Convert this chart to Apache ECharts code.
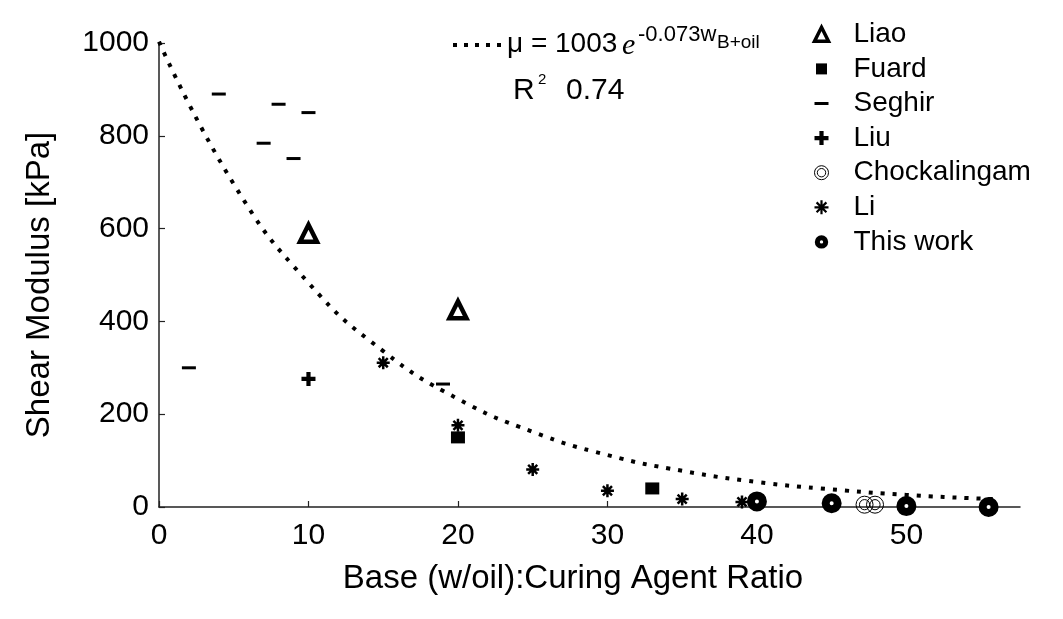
<!DOCTYPE html>
<html>
<head>
<meta charset="utf-8" />
<script src="https://cdn.jsdelivr.net/npm/echarts@6/dist/echarts.min.js"></script>
<style>
    html, body { margin: 0; padding: 0; background: #fff; }
    #chart { width: 1063px; height: 619px; }
</style>
</head>
<body>
<div id="chart"></div>
<script>
// ---- data ----
var liao = [[10, 590], [20, 425]];
var fuard = [[20, 150], [33, 40]];
var seghir = [[4, 890], [8, 868], [10, 850], [7, 784], [9, 751], [2, 300], [19, 265]];
var liu = [[10, 276]];
var chockalingam = [[47.2, 5], [47.9, 5]];
var li = [[15, 311], [20, 176], [25, 81], [30, 35], [35, 17], [39, 11]];
var thisWork = [[40, 12], [45, 8], [50, 2], [55.5, 0]];

// fitted curve, sampled from the dotted line
var fitX = [0, 5, 10, 15, 20, 25, 30, 35, 40, 45, 50, 55, 56];
var fitY = [1003, 696, 483, 336, 233, 162, 112, 78, 54, 38, 26, 18, 17];

var xTicks = [0, 10, 20, 30, 40, 50];

var FONT = 'Liberation Sans, Arial, sans-serif';

var sym = {
    dash: 'path://M0,0M14,14M0,5.5H14V8.5H0Z',
    plus: 'path://M-1.5,-5H1.5V-1.5H5V1.5H1.5V5H-1.5V1.5H-5V-1.5H-1.5Z',
    ring2: 'path://M-10,0A10,10,0,1,0,10,0A10,10,0,1,0,-10,0ZM-6,0A6,6,0,1,0,6,0A6,6,0,1,0,-6,0Z',
    star: 'path://M0,-5V5M-5,0H5M-3.5,-3.5L3.5,3.5M-3.5,3.5L3.5,-3.5',
    squareSmall: 'path://M0,0M14,14M1.5,1.5H12.5V12.5H1.5Z',
    dotSmall: 'path://M0,0M20,20M4,10A6,6,0,1,0,16,10A6,6,0,1,0,4,10Z'
};

var myChart = echarts.init(document.getElementById('chart'), null, { renderer: 'canvas' });

var fitData = fitX.map(function (x, i) { return [x, fitY[i]]; });

var option = {
    animation: false,
    backgroundColor: '#fff',
    grid: { left: 159, right: 43, top: 43, bottom: 112, containLabel: false },
    xAxis: {
        type: 'value',
        min: 0,
        max: 57.6,
        name: 'Base (w/oil):Curing Agent Ratio',
        nameLocation: 'middle',
        nameGap: 55,
        nameTextStyle: { fontFamily: FONT, fontSize: 33, color: '#000', padding: [0, 33, 0, 0] },
        axisLine: { lineStyle: { color: '#222', width: 1.5 } },
        axisTick: { inside: true, length: 6, customValues: xTicks, lineStyle: { color: '#222', width: 1.2 } },
        axisLabel: { customValues: xTicks, fontFamily: FONT, fontSize: 30, color: '#000', margin: 14 },
        splitLine: { show: false }
    },
    yAxis: {
        type: 'value',
        min: 0,
        max: 1000,
        interval: 200,
        name: 'Shear Modulus [kPa]',
        nameLocation: 'middle',
        nameGap: 103,
        nameTextStyle: { fontFamily: FONT, fontSize: 33, color: '#000', padding: [0, 20, 0, 0] },
        axisLine: { show: true, lineStyle: { color: '#222', width: 1.5 } },
        axisTick: { show: true, inside: true, length: 6, lineStyle: { color: '#222', width: 1.2 } },
        axisLabel: {
            fontFamily: FONT, fontSize: 30, color: '#000', margin: 10,
            formatter: function (v) { return String(v); }
        },
        splitLine: { show: false }
    },
    legend: {
        orient: 'vertical',
        left: 812,
        top: 17,
        padding: 0,
        itemGap: 0,
        itemWidth: 14,
        itemHeight: 14,
        textStyle: { fontFamily: FONT, fontSize: 28, color: '#000', lineHeight: 34.6, padding: [0, 0, 0, 20] },
        data: [
            { name: 'Liao', itemStyle: { borderWidth: 3.5 } },
            { name: 'Fuard', icon: sym.squareSmall },
            { name: 'Seghir' },
            { name: 'Liu' },
            { name: 'Chockalingam', itemStyle: { borderWidth: 1 } },
            { name: 'Li', itemStyle: { borderWidth: 2.2 } },
            { name: 'This work', icon: sym.dotSmall, itemStyle: { borderWidth: 5 } }
        ]
    },
    graphic: [
        {
            type: 'line',
            shape: { x1: 453, y1: 45, x2: 505, y2: 45 },
            style: { stroke: '#000', lineWidth: 4, lineDash: [4, 7] }
        },
        { type: 'text', x: 507, y: 44, style: { text: 'μ = 1003', font: '28px ' + FONT, fill: '#000', verticalAlign: 'middle' } },
        { type: 'text', x: 622, y: 46, style: { text: 'e', font: 'italic 30px Liberation Serif, Times New Roman, serif', fill: '#000', verticalAlign: 'middle' } },
        { type: 'text', x: 638, y: 35, style: { text: '-0.073w', font: '22px ' + FONT, fill: '#000', verticalAlign: 'middle' } },
        { type: 'text', x: 717, y: 43, style: { text: 'B+oil', font: '19px ' + FONT, fill: '#000', verticalAlign: 'middle' } },
        { type: 'text', x: 513, y: 91, style: { text: 'R', font: '30px ' + FONT, fill: '#000', verticalAlign: 'middle' } },
        { type: 'text', x: 538, y: 80, style: { text: '2', font: '15px ' + FONT, fill: '#000', verticalAlign: 'middle' } },
        { type: 'text', x: 566, y: 91, style: { text: '0.74', font: '30px ' + FONT, fill: '#000', verticalAlign: 'middle' } }
    ],
    series: [
        {
            name: 'fit',
            type: 'line',
            data: fitData,
            smooth: true,
            showSymbol: false,
            silent: true,
            lineStyle: { color: '#000', width: 4, type: [4, 8], cap: 'butt' },
            z: 1
        },
        {
            name: 'Liao', type: 'scatter', data: liao,
            symbol: 'triangle', symbolSize: 17,
            itemStyle: { color: '#fff', borderColor: '#000', borderWidth: 4.5, opacity: 1 }
        },
        {
            name: 'Fuard', type: 'scatter', data: fuard,
            symbol: 'rect', symbolSize: [14, 12],
            itemStyle: { color: '#000', opacity: 1 }
        },
        {
            name: 'Seghir', type: 'scatter', data: seghir,
            symbol: sym.dash, symbolSize: 14,
            itemStyle: { color: '#000', opacity: 1 }
        },
        {
            name: 'Liu', type: 'scatter', data: liu,
            symbol: sym.plus, symbolSize: 14,
            itemStyle: { color: '#000', opacity: 1 }
        },
        {
            name: 'Chockalingam', type: 'scatter', data: chockalingam,
            symbol: sym.ring2, symbolSize: 17,
            itemStyle: { color: 'rgba(0,0,0,0)', borderColor: '#000', borderWidth: 1, opacity: 1 }
        },
        {
            name: 'Li', type: 'scatter', data: li,
            symbol: sym.star, symbolSize: 13,
            itemStyle: { color: 'rgba(0,0,0,0)', borderColor: '#000', borderWidth: 2.5, opacity: 1 }
        },
        {
            name: 'This work', type: 'scatter', data: thisWork,
            symbol: 'circle', symbolSize: 12,
            itemStyle: { color: '#fff', borderColor: '#000', borderWidth: 8, opacity: 1 },
            z: 5
        }
    ]
};

myChart.setOption(option);
</script>
</body>
</html>
